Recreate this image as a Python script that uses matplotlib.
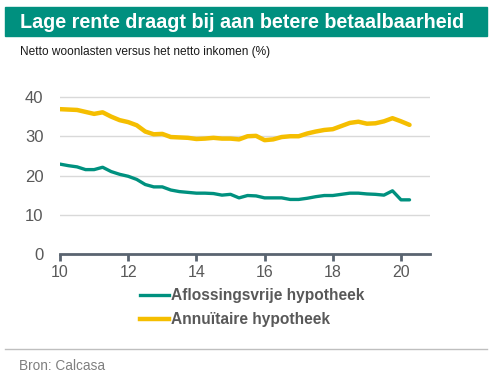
import matplotlib
matplotlib.use("Agg")
import matplotlib.pyplot as plt
from matplotlib.lines import Line2D

plt.rcParams['font.family'] = ['Liberation Sans', 'DejaVu Sans']

# kwartalen 2010 t/m 2020
years = [10.0, 10.25, 10.5, 10.75, 11.0, 11.25, 11.5, 11.75, 12.0, 12.25, 12.5, 12.75,
         13.0, 13.25, 13.5, 13.75, 14.0, 14.25, 14.5, 14.75, 15.0, 15.25, 15.5, 15.75,
         16.0, 16.25, 16.5, 16.75, 17.0, 17.25, 17.5, 17.75, 18.0, 18.25, 18.5, 18.75,
         19.0, 19.25, 19.5, 19.75, 20.0, 20.25]

aflossingsvrij = [22.9, 22.5, 22.2, 21.5, 21.5, 22.1, 21.0, 20.3, 19.8, 19.0, 17.7, 17.1,
                  17.1, 16.3, 15.9, 15.7, 15.5, 15.5, 15.4, 15.0, 15.2, 14.3, 14.9, 14.8,
                  14.3, 14.3, 14.3, 13.9, 13.9, 14.2, 14.6, 14.9, 14.9, 15.2, 15.5, 15.5,
                  15.3, 15.2, 15.0, 16.1, 13.8, 13.8]

annuitair = [36.9, 36.8, 36.7, 36.2, 35.7, 36.1, 35.0, 34.1, 33.6, 32.8, 31.2, 30.5,
             30.6, 29.8, 29.7, 29.6, 29.3, 29.4, 29.6, 29.4, 29.4, 29.2, 30.0, 30.1,
             29.0, 29.2, 29.8, 30.0, 30.0, 30.7, 31.2, 31.6, 31.8, 32.6, 33.4, 33.7,
             33.2, 33.3, 33.8, 34.6, 33.8, 32.9]

x_ticks = [10, 12, 14, 16, 18, 20]
y_ticks = [0, 10, 20, 30, 40]

teal = '#00917F'
yellow = '#F5BE00'
grey_txt = '#595959'

W, H = 503, 388
fig = plt.figure(figsize=(W / 100, H / 100), dpi=100)

# titelbalk
fig.patches.append(plt.Rectangle((5 / W, 1 - 36 / H), 482 / W, 29 / H,
                                 transform=fig.transFigure, color='#00907F', zorder=0))
fig.text(20 / W, 1 - 22 / H, "Lage rente draagt bij aan betere betaalbaarheid",
         color='white', fontsize=14.2, fontweight='bold', va='center', ha='left')
fig.text(20 / W, 1 - 52 / H, "Netto woonlasten versus het netto inkomen (%)",
         color='#1a1a1a', fontsize=8.6, va='center', ha='left')

ax = fig.add_axes([60 / W, 1 - 254 / H, 370 / W, 165 / H])
ax.plot(years, aflossingsvrij, color=teal, lw=2.4, solid_capstyle='round')
ax.plot(years, annuitair, color=yellow, lw=3.2, solid_capstyle='round')

ax.set_xlim(10, 10 + 370 / 34.1)
ax.set_ylim(0, 165 / 3.925)
ax.set_xticks(x_ticks)
ax.set_yticks(y_ticks)
for v in [10, 20, 30, 40]:
    ax.axhline(v, color='#D9D9D9', lw=1, zorder=0)

for s in ['top', 'right', 'left']:
    ax.spines[s].set_visible(False)
ax.spines['bottom'].set_color('#5A6470')
ax.spines['bottom'].set_linewidth(2)
ax.tick_params(axis='x', colors='#5A6470', width=2, length=5, direction='out',
               labelcolor=grey_txt, labelsize=11.5, pad=3)
ax.tick_params(axis='y', length=0, labelcolor=grey_txt, labelsize=12, pad=12)

handles = [Line2D([], [], color=teal, lw=2.4),
           Line2D([], [], color=yellow, lw=3.2)]
leg = fig.legend(handles, ["Aflossingsvrije hypotheek", "Annuïtaire hypotheek"],
                 loc='upper left', bbox_to_anchor=(126 / W, 1 - 274 / H),
                 frameon=False, handlelength=1.85, handletextpad=0.15,
                 labelspacing=0.6, prop={'weight': 'bold', 'size': 11.2})
for t in leg.get_texts():
    t.set_color(grey_txt)

fig.add_artist(Line2D([5 / W, 487 / W], [1 - 349 / H, 1 - 349 / H],
                      color='#BFBFBF', lw=1, transform=fig.transFigure))
fig.text(19 / W, 1 - 366 / H, "Bron: Calcasa", color='#7F7F7F', fontsize=9.8,
         va='center', ha='left')

fig.savefig("out.png", dpi=100)
